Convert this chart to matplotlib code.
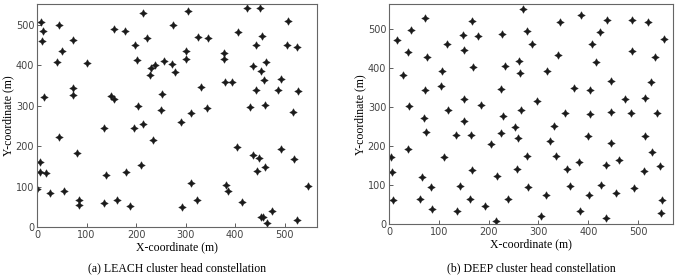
import matplotlib
matplotlib.use("Agg")
from matplotlib import pyplot as plt

# LEACH cluster heads (x, y in m)
leach_x = [9, 45, 13, 11, 72, 50, 41, 101, 72, 72, 15, 44, 81, 6, 6, 18, 1, 26, 54, 84,
           85, 214, 155, 177, 198, 201, 222, 304, 275, 325, 346, 301, 301, 257, 273, 278,
           239, 230, 228, 149, 155, 204, 252, 251, 331, 343, 310, 291, 136, 196, 214, 235,
           210, 140, 179, 310, 136, 161, 187, 292, 323, 378, 377, 405, 424, 451, 454, 506,
           505, 525, 443, 436, 463, 452, 458, 380, 393, 443, 487, 492, 526, 430, 461, 517,
           403, 436, 449, 445, 460, 493, 519, 546, 382, 386, 413, 453, 456, 464, 474, 525]
leach_y = [507, 499, 485, 460, 464, 436, 409, 407, 345, 326, 321, 222, 184, 160, 136, 133,
           93, 83, 89, 66, 55, 529, 491, 485, 450, 414, 469, 534, 499, 471, 468, 436, 416,
           412, 403, 383, 400, 393, 377, 325, 316, 299, 328, 289, 347, 295, 281, 261, 245,
           245, 254, 215, 154, 129, 136, 109, 60, 67, 52, 49, 66, 431, 417, 482, 541, 541,
           472, 509, 450, 446, 450, 398, 409, 386, 364, 358, 360, 338, 338, 366, 336, 296,
           301, 285, 197, 179, 170, 139, 148, 192, 169, 102, 103, 88, 61, 26, 26, 10, 40, 17]

# DEEP cluster heads (x, y in m)
deep_x = [72, 44, 17, 39, 76, 29, 72, 41, 70, 75, 39, 3, 7, 9, 66, 84, 62, 87, 166, 116,
          148, 150, 179, 168, 106, 104, 119, 150, 150, 185, 135, 165, 204, 110, 167, 143,
          162, 136, 193, 215, 217, 227, 232, 268, 277, 286, 260, 263, 224, 228, 224, 264,
          253, 259, 276, 257, 278, 239, 297, 317, 339, 343, 385, 353, 331, 323, 335, 357,
          363, 315, 305, 371, 404, 404, 382, 400, 383, 402, 416, 408, 424, 438, 446, 446,
          446, 436, 426, 462, 455, 436, 473, 485, 487, 487, 520, 552, 533, 526, 514, 538,
          514, 527, 543, 511, 491, 547, 546]
deep_y = [530, 498, 473, 442, 429, 384, 344, 303, 272, 237, 194, 172, 135, 62, 122, 95,
          66, 39, 522, 462, 485, 448, 483, 403, 393, 354, 292, 322, 265, 307, 228, 228,
          206, 173, 138, 97, 66, 35, 47, 8, 124, 489, 405, 551, 497, 463, 420, 388, 347,
          277, 235, 293, 250, 221, 174, 141, 96, 64, 315, 393, 433, 519, 538, 285, 252,
          214, 174, 142, 97, 74, 21, 350, 345, 284, 159, 226, 34, 76, 415, 462, 493, 524,
          368, 287, 208, 153, 101, 164, 79, 16, 322, 286, 444, 523, 519, 474, 429, 365,
          325, 285, 226, 185, 150, 136, 92, 63, 30]

x_ticks = [0, 100, 200, 300, 400, 500]
y_ticks = [0, 100, 200, 300, 400, 500]
captions = ["(a) LEACH cluster head constellation", "(b) DEEP cluster head constellation"]

serif = ["Liberation Serif", "DejaVu Serif"]
fig = plt.figure(figsize=(6.89, 2.75), dpi=100)
ax1 = fig.add_axes([0.0537, 0.1745, 0.4063, 0.8125])
ax2 = fig.add_axes([0.5646, 0.1844, 0.4122, 0.7996])

panels = [(ax1, leach_x, leach_y, 565, 553), (ax2, deep_x, deep_y, 570, 564)]
for (ax, xs, ys, xmax, ymax), cap in zip(panels, captions):
    ax.plot(xs, ys, linestyle="none", marker=(4, 1, 0), markersize=5.5,
            color="#1a1a1a", markeredgewidth=0.3)
    ax.set_xlim(0, xmax)
    ax.set_ylim(0, ymax)
    ax.set_xticks(x_ticks)
    ax.set_yticks(y_ticks)
    ax.tick_params(direction="in", length=3, width=0.6, labelsize=7,
                   colors="#444444", pad=2)
    for s in ax.spines.values():
        s.set_color("#666666")
        s.set_linewidth(0.8)
    ax.set_xlabel("X-coordinate (m)", fontsize=8.5, family=serif, labelpad=1)
    ax.set_ylabel("Y-coordinate (m)", fontsize=8.5, family=serif, labelpad=1)
    pos = ax.get_position()
    fig.text((pos.x0 + pos.x1) / 2, 0.004, cap, ha="center", va="bottom",
             fontsize=8.5, family=serif)

fig.savefig("out.png", dpi=100)
